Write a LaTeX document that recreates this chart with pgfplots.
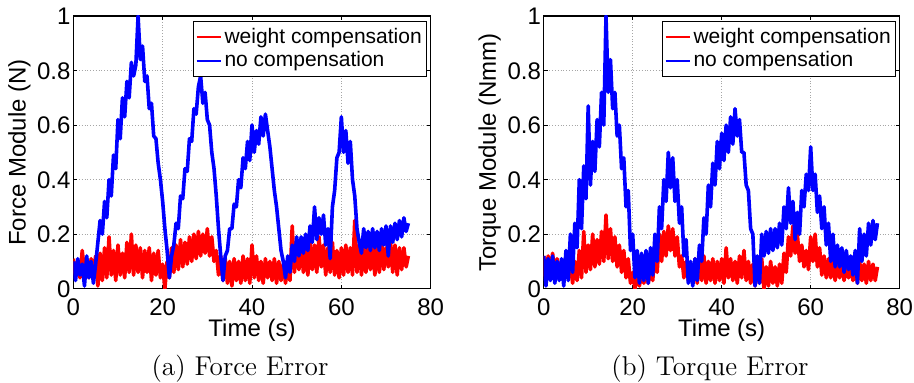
\documentclass[border=0pt]{standalone}
\usepackage{fontspec}
\usepackage{pgfplots}
\usepackage{pgfplotstable}
\pgfplotsset{compat=1.18}
\newfontfamily\arial{Liberation Sans}

\pgfplotstableread[row sep=\\]{
t y\\
0 0.10\\ 0.5 0.03\\ 1 0.11\\ 1.5 0.05\\ 2 0.09\\ 2.5 0.01\\ 3 0.12\\ 3.5 0.04\\ 4 0.10\\ 4.5 0.02\\
5 0.09\\ 5.5 0.17\\ 6 0.25\\ 6.5 0.20\\ 7 0.32\\ 7.5 0.26\\ 8 0.40\\ 8.5 0.34\\ 9 0.49\\ 9.5 0.44\\
10 0.62\\ 10.5 0.55\\ 11 0.70\\ 11.5 0.63\\ 12 0.76\\ 12.5 0.70\\ 13 0.83\\ 13.5 0.78\\ 14 0.82\\ 14.5 1.00\\
15 0.84\\ 15.5 0.89\\ 16 0.76\\ 16.5 0.78\\ 17 0.66\\ 17.5 0.68\\ 18 0.56\\ 18.5 0.55\\ 19 0.46\\ 19.5 0.40\\
20 0.32\\ 20.5 0.22\\ 21 0.14\\ 21.5 0.04\\ 22 0.12\\ 22.5 0.16\\ 23 0.24\\ 23.5 0.22\\ 24 0.34\\ 24.5 0.33\\
25 0.44\\ 25.5 0.43\\ 26 0.55\\ 26.5 0.54\\ 27 0.66\\ 27.5 0.64\\ 28 0.74\\ 28.5 0.78\\ 29 0.68\\ 29.5 0.72\\
30 0.62\\ 30.5 0.60\\ 31 0.50\\ 31.5 0.44\\ 32 0.34\\ 32.5 0.22\\ 33 0.12\\ 33.5 0.03\\ 34 0.12\\ 34.5 0.14\\
35 0.22\\ 35.5 0.22\\ 36 0.31\\ 36.5 0.30\\ 37 0.40\\ 37.5 0.37\\ 38 0.48\\ 38.5 0.44\\ 39 0.54\\ 39.5 0.47\\
40 0.60\\ 40.5 0.50\\ 41 0.58\\ 41.5 0.53\\ 42 0.63\\ 42.5 0.56\\ 43 0.64\\ 43.5 0.58\\ 44 0.52\\ 44.5 0.44\\
45 0.36\\ 45.5 0.30\\ 46 0.22\\ 46.5 0.14\\ 47 0.10\\ 47.5 0.04\\ 48 0.12\\ 48.5 0.06\\ 49 0.16\\ 49.5 0.10\\
50 0.19\\ 50.5 0.12\\ 51 0.19\\ 51.5 0.13\\ 52 0.20\\ 52.5 0.14\\ 53 0.23\\ 53.5 0.17\\ 54 0.30\\ 54.5 0.18\\
55 0.26\\ 55.5 0.20\\ 56 0.27\\ 56.5 0.16\\ 57 0.22\\ 57.5 0.11\\ 58 0.30\\ 58.5 0.36\\ 59 0.48\\ 59.5 0.50\\
60 0.63\\ 60.5 0.50\\ 61 0.58\\ 61.5 0.46\\ 62 0.54\\ 62.5 0.40\\ 63 0.34\\ 63.5 0.22\\ 64 0.17\\ 64.5 0.13\\
65 0.22\\ 65.5 0.15\\ 66 0.21\\ 66.5 0.14\\ 67 0.22\\ 67.5 0.15\\ 68 0.21\\ 68.5 0.14\\ 69 0.22\\ 69.5 0.16\\
70 0.23\\ 70.5 0.12\\ 71 0.23\\ 71.5 0.17\\ 72 0.24\\ 72.5 0.18\\ 73 0.25\\ 73.5 0.19\\ 74 0.26\\ 74.5 0.21\\
75 0.24\\
}\forceno

\pgfplotstableread[row sep=\\]{
t y\\
0 0.11\\ 0.5 0.05\\ 1 0.10\\ 1.5 0.04\\ 2 0.14\\ 2.5 0.06\\ 3 0.10\\ 3.5 0.04\\ 4 0.11\\ 4.5 0.05\\
5 0.12\\ 5.5 0.01\\ 6 0.13\\ 6.5 0.03\\ 7 0.15\\ 7.5 0.04\\ 8 0.19\\ 8.5 0.05\\ 9 0.14\\ 9.5 0.03\\
10 0.16\\ 10.5 0.05\\ 11 0.13\\ 11.5 0.04\\ 12 0.17\\ 12.5 0.06\\ 13 0.20\\ 13.5 0.05\\ 14 0.16\\ 14.5 0.06\\
15 0.15\\ 15.5 0.04\\ 16 0.14\\ 16.5 0.06\\ 17 0.15\\ 17.5 0.03\\ 18 0.13\\ 18.5 0.05\\ 19 0.14\\ 19.5 0.04\\
20 0.09\\ 20.5 0.00\\ 21 0.10\\ 21.5 0.04\\ 22 0.15\\ 22.5 0.06\\ 23 0.16\\ 23.5 0.07\\ 24 0.18\\ 24.5 0.08\\
25 0.17\\ 25.5 0.09\\ 26 0.19\\ 26.5 0.10\\ 27 0.20\\ 27.5 0.11\\ 28 0.21\\ 28.5 0.12\\ 29 0.20\\ 29.5 0.13\\
30 0.22\\ 30.5 0.12\\ 31 0.19\\ 31.5 0.10\\ 32 0.14\\ 32.5 0.05\\ 33 0.12\\ 33.5 0.03\\ 34 0.11\\ 34.5 0.02\\
35 0.10\\ 35.5 0.01\\ 36 0.11\\ 36.5 0.03\\ 37 0.10\\ 37.5 0.02\\ 38 0.12\\ 38.5 0.03\\ 39 0.11\\ 39.5 0.02\\
40 0.16\\ 40.5 0.04\\ 41 0.12\\ 41.5 0.03\\ 42 0.10\\ 42.5 0.02\\ 43 0.11\\ 43.5 0.04\\ 44 0.10\\ 44.5 0.03\\
45 0.11\\ 45.5 0.02\\ 46 0.10\\ 46.5 0.03\\ 47 0.09\\ 47.5 0.02\\ 48 0.08\\ 48.5 0.03\\ 49 0.23\\ 49.5 0.06\\
50 0.16\\ 50.5 0.07\\ 51 0.17\\ 51.5 0.06\\ 52 0.15\\ 52.5 0.05\\ 53 0.17\\ 53.5 0.07\\ 54 0.16\\ 54.5 0.06\\
55 0.19\\ 55.5 0.08\\ 56 0.16\\ 56.5 0.05\\ 57 0.15\\ 57.5 0.06\\ 58 0.17\\ 58.5 0.05\\ 59 0.14\\ 59.5 0.04\\
60 0.15\\ 60.5 0.05\\ 61 0.16\\ 61.5 0.06\\ 62 0.15\\ 62.5 0.05\\ 63 0.25\\ 63.5 0.06\\ 64 0.16\\ 64.5 0.05\\
65 0.15\\ 65.5 0.06\\ 66 0.16\\ 66.5 0.07\\ 67 0.15\\ 67.5 0.05\\ 68 0.16\\ 68.5 0.06\\ 69 0.17\\ 69.5 0.07\\
70 0.15\\ 70.5 0.08\\ 71 0.17\\ 71.5 0.06\\ 72 0.16\\ 72.5 0.05\\ 73 0.15\\ 73.5 0.07\\ 74 0.15\\ 74.5 0.08\\
75 0.12\\
}\forcewc

\pgfplotstableread[row sep=\\]{
t y\\
0 0.12\\ 0.5 0.01\\ 1 0.11\\ 1.5 0.03\\ 2 0.12\\ 2.5 0.02\\ 3 0.10\\ 3.5 0.03\\ 4 0.11\\ 4.5 0.01\\
5 0.14\\ 5.5 0.03\\ 6 0.20\\ 6.5 0.06\\ 7 0.24\\ 7.5 0.15\\ 8 0.40\\ 8.5 0.22\\ 9 0.45\\ 9.5 0.33\\
10 0.67\\ 10.5 0.38\\ 11 0.54\\ 11.5 0.43\\ 12 0.62\\ 12.5 0.52\\ 13 0.72\\ 13.5 0.60\\ 14 1.00\\ 14.5 0.72\\
15 0.84\\ 15.5 0.66\\ 16 0.72\\ 16.5 0.56\\ 17 0.60\\ 17.5 0.44\\ 18 0.48\\ 18.5 0.30\\ 19 0.36\\ 19.5 0.14\\
20 0.20\\ 20.5 0.04\\ 21 0.14\\ 21.5 0.02\\ 22 0.13\\ 22.5 0.03\\ 23 0.14\\ 23.5 0.02\\ 24 0.15\\ 24.5 0.05\\
25 0.20\\ 25.5 0.10\\ 26 0.30\\ 26.5 0.22\\ 27 0.40\\ 27.5 0.32\\ 28 0.50\\ 28.5 0.37\\ 29 0.48\\ 29.5 0.32\\
30 0.40\\ 30.5 0.24\\ 31 0.30\\ 31.5 0.12\\ 32 0.18\\ 32.5 0.02\\ 33 0.10\\ 33.5 0.01\\ 34 0.11\\ 34.5 0.03\\
35 0.16\\ 35.5 0.10\\ 36 0.26\\ 36.5 0.20\\ 37 0.38\\ 37.5 0.30\\ 38 0.46\\ 38.5 0.38\\ 39 0.54\\ 39.5 0.44\\
40 0.57\\ 40.5 0.47\\ 41 0.60\\ 41.5 0.50\\ 42 0.63\\ 42.5 0.53\\ 43 0.66\\ 43.5 0.56\\ 44 0.62\\ 44.5 0.50\\
45 0.50\\ 45.5 0.38\\ 46 0.36\\ 46.5 0.22\\ 47 0.20\\ 47.5 0.01\\ 48 0.12\\ 48.5 0.02\\ 49 0.20\\ 49.5 0.12\\
50 0.21\\ 50.5 0.13\\ 51 0.22\\ 51.5 0.14\\ 52 0.22\\ 52.5 0.15\\ 53 0.24\\ 53.5 0.16\\ 54 0.30\\ 54.5 0.22\\
55 0.37\\ 55.5 0.24\\ 56 0.32\\ 56.5 0.18\\ 57 0.28\\ 57.5 0.20\\ 58 0.36\\ 58.5 0.30\\ 59 0.42\\ 59.5 0.36\\
60 0.52\\ 60.5 0.36\\ 61 0.42\\ 61.5 0.28\\ 62 0.34\\ 62.5 0.22\\ 63 0.30\\ 63.5 0.16\\ 64 0.24\\ 64.5 0.10\\
65 0.20\\ 65.5 0.08\\ 66 0.16\\ 66.5 0.08\\ 67 0.15\\ 67.5 0.06\\ 68 0.14\\ 68.5 0.07\\ 69 0.12\\ 69.5 0.05\\
70 0.14\\ 70.5 0.02\\ 71 0.22\\ 71.5 0.10\\ 72 0.20\\ 72.5 0.12\\ 73 0.24\\ 73.5 0.16\\ 74 0.25\\ 74.5 0.18\\
75 0.24\\
}\torqueno

\pgfplotstableread[row sep=\\]{
t y\\
0 0.12\\ 0.5 0.03\\ 1 0.12\\ 1.5 0.04\\ 2 0.13\\ 2.5 0.05\\ 3 0.11\\ 3.5 0.04\\ 4 0.10\\ 4.5 0.03\\
5 0.12\\ 5.5 0.04\\ 6 0.09\\ 6.5 0.02\\ 7 0.10\\ 7.5 0.03\\ 8 0.14\\ 8.5 0.04\\ 9 0.21\\ 9.5 0.06\\
10 0.16\\ 10.5 0.07\\ 11 0.20\\ 11.5 0.08\\ 12 0.18\\ 12.5 0.09\\ 13 0.21\\ 13.5 0.10\\ 14 0.27\\ 14.5 0.11\\
15 0.22\\ 15.5 0.10\\ 16 0.19\\ 16.5 0.08\\ 17 0.16\\ 17.5 0.06\\ 18 0.14\\ 18.5 0.04\\ 19 0.11\\ 19.5 0.02\\
20 0.06\\ 20.5 0.00\\ 21 0.05\\ 21.5 0.01\\ 22 0.06\\ 22.5 0.02\\ 23 0.07\\ 23.5 0.02\\ 24 0.08\\ 24.5 0.03\\
25 0.14\\ 25.5 0.06\\ 26 0.20\\ 26.5 0.10\\ 27 0.21\\ 27.5 0.12\\ 28 0.23\\ 28.5 0.14\\ 29 0.22\\ 29.5 0.12\\
30 0.19\\ 30.5 0.08\\ 31 0.12\\ 31.5 0.04\\ 32 0.10\\ 32.5 0.03\\ 33 0.08\\ 33.5 0.02\\ 34 0.11\\ 34.5 0.02\\
35 0.13\\ 35.5 0.03\\ 36 0.12\\ 36.5 0.02\\ 37 0.10\\ 37.5 0.03\\ 38 0.11\\ 38.5 0.02\\ 39 0.10\\ 39.5 0.03\\
40 0.11\\ 40.5 0.02\\ 41 0.15\\ 41.5 0.04\\ 42 0.11\\ 42.5 0.03\\ 43 0.10\\ 43.5 0.02\\ 44 0.12\\ 44.5 0.04\\
45 0.14\\ 45.5 0.03\\ 46 0.10\\ 46.5 0.02\\ 47 0.09\\ 47.5 0.01\\ 48 0.10\\ 48.5 0.02\\ 49 0.11\\ 49.5 0.00\\
50 0.08\\ 50.5 0.01\\ 51 0.10\\ 51.5 0.02\\ 52 0.08\\ 52.5 0.01\\ 53 0.09\\ 53.5 0.02\\ 54 0.13\\ 54.5 0.06\\
55 0.19\\ 55.5 0.12\\ 56 0.23\\ 56.5 0.13\\ 57 0.20\\ 57.5 0.10\\ 58 0.16\\ 58.5 0.08\\ 59 0.14\\ 59.5 0.07\\
60 0.19\\ 60.5 0.10\\ 61 0.20\\ 61.5 0.08\\ 62 0.15\\ 62.5 0.05\\ 63 0.12\\ 63.5 0.04\\ 64 0.11\\ 64.5 0.04\\
65 0.10\\ 65.5 0.03\\ 66 0.09\\ 66.5 0.04\\ 67 0.10\\ 67.5 0.03\\ 68 0.09\\ 68.5 0.04\\ 69 0.08\\ 69.5 0.03\\
70 0.09\\ 70.5 0.02\\ 71 0.10\\ 71.5 0.03\\ 72 0.09\\ 72.5 0.02\\ 73 0.10\\ 73.5 0.03\\ 74 0.09\\ 74.5 0.03\\
75 0.08\\
}\torquewc

\pgfplotsset{
  matlab/.style={
    scale only axis,
    height=136.35pt,
    xmin=0, xmax=80, ymin=0, ymax=1,
    xtick={0,20,40,60,80},
    ytick={0,0.2,0.4,0.6,0.8,1},
    tick align=inside,
    major tick length=2pt,
    xtick pos=both, ytick pos=both,
    axis line style={line width=0.6pt},
    every tick/.style={black, line width=0.5pt},
    grid=major,
    major grid style={densely dotted, gray!70, line width=0.4pt},
    /pgf/number format/assume math mode=true,
    tick label style={font=\arial\fontsize{12}{14}\selectfont},
    yticklabel style={inner sep=0pt, text height=8.6pt, text depth=0pt, xshift=-1.2pt},
    xticklabel style={inner sep=0pt, text height=8.6pt, text depth=0pt, yshift=-4.6pt},
    label style={font=\arial\fontsize{12}{14}\selectfont},
    xlabel style={at={(axis description cs:0.5,0)}, anchor=north, yshift=-15pt,
      inner sep=0pt, text height=8.8pt, text depth=2.6pt},
    ylabel style={at={(axis description cs:0,0.5)}, anchor=center, yshift=27pt, inner sep=0pt},
    xlabel={Time (s)},
    legend style={at={(1,1)}, anchor=north east, xshift=-1.85pt, yshift=-2.5pt,
      font=\arial\fontsize{10.5}{11}\selectfont, draw=black, line width=0.6pt,
      inner xsep=1pt, inner ysep=2pt, row sep=0pt,
      nodes={inner sep=1.3pt}},
    legend cell align=left,
    legend image code/.code={\draw[#1, line width=1.2pt] (0pt,0pt) -- (12pt,0pt);},
    every axis plot/.append style={line width=1.8pt, line join=round},
  }
}

\begin{document}
\begin{tikzpicture}
\useasboundingbox (0,0) rectangle (457pt,191.5pt);
\begin{axis}[matlab, at={(36.65pt,47.15pt)}, anchor=south west, width=178.7pt,
  ylabel={Force Module (N)}]
\addplot[red] table[x=t, y=y] {\forcewc};
\addlegendentry{weight compensation}
\addplot[blue] table[x=t, y=y] {\forceno};
\addlegendentry{no compensation}
\end{axis}
\begin{axis}[matlab, at={(271.85pt,47.15pt)}, anchor=south west, width=178pt,
  ylabel={Torque Module (Nmm)}]
\addplot[red] table[x=t, y=y] {\torquewc};
\addlegendentry{weight compensation}
\addplot[blue] table[x=t, y=y] {\torqueno};
\addlegendentry{no compensation}
\end{axis}
\node[anchor=base, font=\fontsize{13.6}{16}\selectfont] at (120pt,3.5pt) {(a) Force Error};
\node[anchor=base, font=\fontsize{13.6}{16}\selectfont] at (355pt,3.5pt) {(b) Torque Error};
\end{tikzpicture}
\end{document}
